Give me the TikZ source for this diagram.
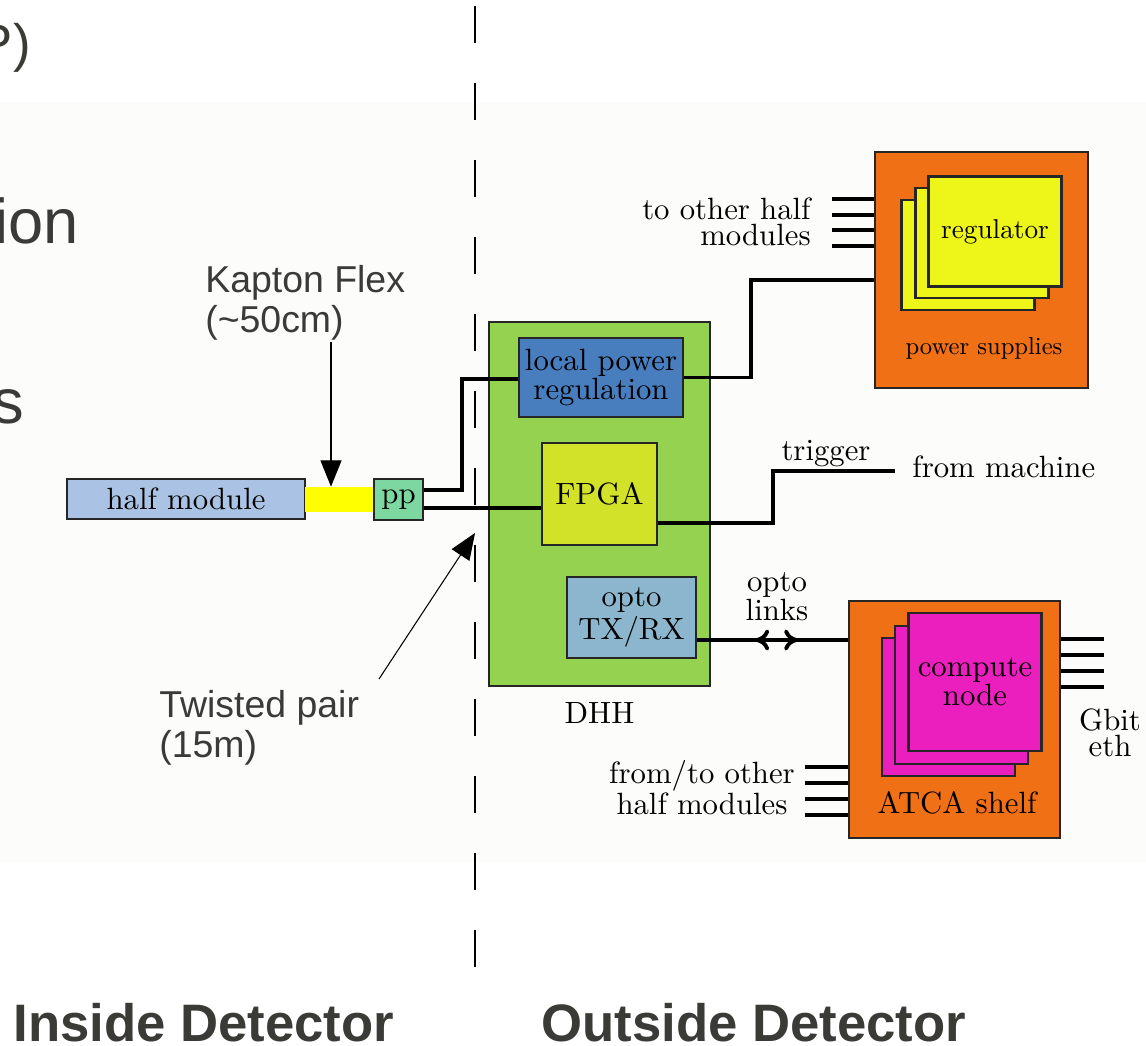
\documentclass[tikz,border=0pt]{standalone}
\usepackage{fontspec}
\newfontfamily\slidefont{Liberation Sans}
\newfontfamily\diagfont{lmroman10-regular.otf}
\usetikzlibrary{arrows.meta, positioning}

\definecolor{paper}{RGB}{252,252,250}
\definecolor{slidegray}{RGB}{58,58,54}
\definecolor{hmblue}{RGB}{170,195,228}
\definecolor{flexyellow}{RGB}{255,255,0}
\definecolor{ppgreen}{RGB}{125,215,160}
\definecolor{dhhgreen}{RGB}{148,210,80}
\definecolor{lprblue}{RGB}{72,125,190}
\definecolor{fpgayellow}{RGB}{210,226,40}
\definecolor{optoblue}{RGB}{140,182,205}
\definecolor{shelforange}{RGB}{240,112,22}
\definecolor{regyellow}{RGB}{238,245,25}
\definecolor{cardpink}{RGB}{235,30,190}

\begin{document}
\begin{tikzpicture}[
x=0.02cm, y=-0.02cm,
every node/.style={font=\diagfont\fontsize{17.5}{15}\selectfont},
box/.style={
draw=black!85,
line width=1.3pt,
inner sep=1pt,
align=center
},
sheet/.style={
box,
fill=regyellow,
minimum width=2.66cm,
minimum height=2.2cm
},
card/.style={
box,
fill=cardpink,
minimum width=2.66cm,
minimum height=2.76cm
},
lbl/.style={inner sep=0pt, align=center},
note/.style={
inner sep=0pt,
align=left,
text=slidegray,
font=\slidefont\fontsize{21.3}{23}\selectfont
},
slidetext/.style={inner sep=0pt, text=slidegray},
wire/.style={draw, line width=2pt},
stub/.style={draw, line width=2.1pt},
callout/.style={draw, line width=0.6pt, -{Triangle[length=15pt,width=12pt]}}
]

% Page and background
\useasboundingbox (0,0) rectangle (1146,1045);
\fill[white] (0,0) rectangle (1146,1045);
\fill[paper] (0,102) rectangle (1146,862);

% Slide text cut at the left edge
\node[slidetext, font=\slidefont\fontsize{30}{30}\selectfont, anchor=base east] (bulletA) at (31,61) {P)};
\node[slidetext, font=\slidefont\fontsize{36}{36}\selectfont, anchor=base east] (bulletB) at (79,243) {ion};
\node[slidetext, font=\slidefont\fontsize{36}{36}\selectfont, anchor=base east] (bulletC) at (24,423) {s};

% Divider
\coordinate (divtop) at (475,6);
\coordinate (divbot) at (475,967);
\draw[line width=0.8pt, dash pattern=on 0.74cm off 0.8cm] (divtop) -- (divbot);

% Nodes
\node[box, fill=hmblue, minimum width=4.76cm, minimum height=0.8cm] (halfmod) at (186,499) {half module};
\node[fill=flexyellow, inner sep=0pt, minimum width=1.38cm, minimum height=0.5cm] (flex) at (339.5,499.5) {};
\node[box, fill=ppgreen, minimum width=0.98cm, minimum height=0.82cm] (pp) at (398.5,499.5) {pp};

\node[box, fill=dhhgreen, line width=1.1pt, minimum width=4.42cm, minimum height=7.28cm] (dhh) at (599.5,504) {};
\node[lbl, below=0.31cm of dhh] (dhhlabel) {DHH};
\node[box, fill=lprblue, minimum width=3.28cm, minimum height=1.58cm, font=\diagfont\fontsize{17.5}{17}\selectfont] (lpr) at (601,377.5) {local power\\regulation};
\node[box, fill=fpgayellow, minimum width=2.3cm, minimum height=2.04cm] (fpga) at (599.5,494) {FPGA};
\node[box, fill=optoblue, minimum width=2.58cm, minimum height=1.62cm, font=\diagfont\fontsize{17.5}{19}\selectfont] (opto) at (631.5,617.5) {opto\\TX/RX};

\node[box, fill=shelforange, minimum width=4.26cm, minimum height=4.72cm] (psu) at (981.5,270) {};
\node[sheet] (reg3) at (968,255) {};
\node[sheet] (reg2) at (982,243) {};
\node[sheet, font=\diagfont\fontsize{15.5}{15}\selectfont] (reg1) at (995,231.5) {regulator};
\node[lbl, font=\diagfont\fontsize{14}{14}\selectfont, anchor=base] (psulabel) at (984,354) {power supplies};

\node[box, fill=shelforange, minimum width=4.22cm, minimum height=4.74cm] (atca) at (954.5,719.5) {};
\node[card] (cn3) at (948.5,707) {};
\node[card] (cn2) at (961.5,695) {};
\node[card] (cn1) at (975,682) {compute\\node};
\node[lbl, anchor=base] (atcalabel) at (957,813) {ATCA shelf};

\node[lbl, anchor=east, align=right] (psustubs) at (811,222) {to other half\\modules};
\node[lbl, anchor=base] (trig) at (826,460) {trigger};
\node[lbl, anchor=base west] (machine) at (912,477) {from machine};
\node[lbl] (optolinks) at (777,597) {opto\\links};
\node[lbl] (atcastubs) at (702,788) {from/to other\\half modules};
\node[lbl] (gbit) at (1110,733) {Gbit\\eth};

% Connections
\coordinate (pwrjog) at (462,379);
\draw[wire] ([yshift=0.19cm]pp.east) -| (pwrjog) -- (pwrjog -| lpr.west);

\coordinate (ppdata) at ([yshift=-0.17cm]pp.east);
\draw[wire] (ppdata) -- (ppdata -| fpga.west);

\coordinate (psujog) at (751,280);
\draw[wire] (lpr.east) -| (psujog) -- (psujog -| psu.west);

\coordinate (fpgaout) at ([yshift=-0.58cm]fpga.east);
\coordinate (trigjog) at (773,471);
\coordinate (trigend) at (895,471);
\draw[wire] (fpgaout) -| (trigjog) -- (trigend);

\coordinate (optoout) at ([yshift=-0.45cm]opto.east);
\draw[wire] (optoout) -- (optoout -| atca.west) coordinate[pos=0.385] (linkL) coordinate[pos=0.67] (linkR);
\draw[line width=2.2pt, {To[length=8pt,width=12pt]}-{To[length=8pt,width=12pt]}] (linkL) -- (linkR);

% stubs to other modules
\foreach \yy in {199,215,230,246} \draw[stub] (832,\yy) -- (psu.west |- 0,\yy);
\foreach \yy in {767,783,799,815} \draw[stub] (805,\yy) -- (atca.west |- 0,\yy);
\foreach \yy in {639,655,671,687} \draw[stub] (atca.east |- 0,\yy) -- (1104,\yy);

% Callouts
\node[note, anchor=north west] (kapton) at (205,265) {Kapton Flex\\(\textasciitilde50cm)};
\coordinate (kaptontail) at (331,342);
\draw[callout] (kaptontail) -- (kaptontail |- flex.north);

\node[note, anchor=north west] (twisted) at (159,690) {Twisted pair\\(15m)};
\coordinate (twtail) at (379,679);
\coordinate (twtip) at (475,533);
\draw[callout] (twtail) -- (twtip);

% Titles
\node[slidetext, font=\slidefont\bfseries\fontsize{30}{30}\selectfont, anchor=base west] (inside) at (13,1041) {Inside Detector};
\node[slidetext, font=\slidefont\bfseries\fontsize{30}{30}\selectfont, anchor=base west] (outside) at (541,1041) {Outside Detector};

\end{tikzpicture}
\end{document}
